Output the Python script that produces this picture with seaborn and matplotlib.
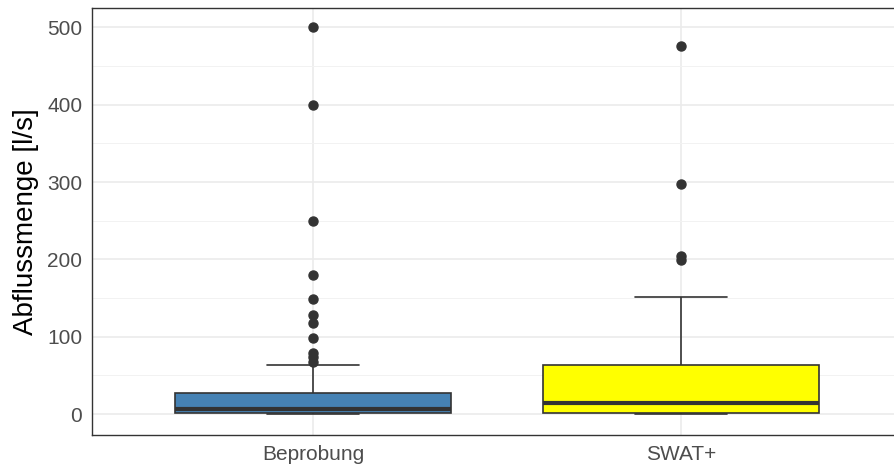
import numpy as np
import pandas as pd
import matplotlib
matplotlib.use("Agg")
import matplotlib.pyplot as plt
from matplotlib.ticker import MultipleLocator
import seaborn as sns

# Data (discharge values in l/s)
beprobung = [0, 0, 0, 0.2, 0.3, 0.5, 0.5, 0.6, 0.8, 0.9, 1, 1, 1,
             1.5, 2, 2, 3, 3, 4, 4, 5, 5, 6, 6, 7,
             8, 9, 10, 10, 12, 14, 15, 17, 19, 21, 24, 27,
             64, 68, 74, 79, 99, 118, 128, 149, 180, 250, 400, 500]
swat = [0, 0, 0, 0, 0.1, 0.2, 0.3, 0.4, 0.5, 0.6, 0.8, 0.9, 1,
        2, 3, 4, 5, 6, 7, 8, 9, 10, 11, 13, 15,
        18, 21, 24, 27, 30, 34, 38, 42, 47, 52, 58, 64,
        70, 78, 85, 95, 105, 118, 132, 151, 199, 204, 297, 476]
categories = ["Beprobung", "SWAT+"]
colors = ["#4682B4", "#FFFF00"]

df = pd.DataFrame({
    "Gruppe": [categories[0]] * len(beprobung) + [categories[1]] * len(swat),
    "Abfluss": beprobung + swat,
})

sns.set_style("white")
plt.rcParams["font.family"] = ["Liberation Sans", "DejaVu Sans"]

fig = plt.figure(figsize=(8.94, 4.75), dpi=100)
ax = fig.add_axes([92 / 894, 40 / 475, 810 / 894, 427 / 475])

dark = "#333333"
sns.boxplot(
    data=df, x="Gruppe", y="Abfluss", hue="Gruppe", order=categories,
    palette=dict(zip(categories, colors)), legend=False, width=0.75,
    saturation=1, linecolor=dark, linewidth=1.2, ax=ax, capwidths=0.25,
    medianprops=dict(color=dark, linewidth=3.0),
    flierprops=dict(marker="o", markerfacecolor=dark, markeredgecolor=dark,
                    markersize=6.5),
)
for line in ax.lines:
    line.set_zorder(3)

ax.set_xlim(-0.6, 1.6)
ax.set_ylim(-27, 525)
ax.yaxis.set_major_locator(MultipleLocator(100))
ax.yaxis.set_minor_locator(MultipleLocator(50))

ax.set_axisbelow(True)
ax.grid(which="major", color="#EBEBEB", linewidth=1.2)
ax.grid(which="minor", axis="y", color="#F2F2F2", linewidth=0.7)

for sp in ax.spines.values():
    sp.set_color(dark)
    sp.set_linewidth(1.0)
    sp.set_visible(True)

ax.tick_params(axis="both", which="major", length=4.5, width=1.0, color=dark,
               labelcolor="#4D4D4D", labelsize=15, pad=2.5)
ax.tick_params(axis="both", which="minor", length=0)
ax.set_xlabel("")
ax.set_ylabel("Abflussmenge [l/s]", fontsize=20, color="black", labelpad=6)

fig.savefig("out.png", dpi=100)
